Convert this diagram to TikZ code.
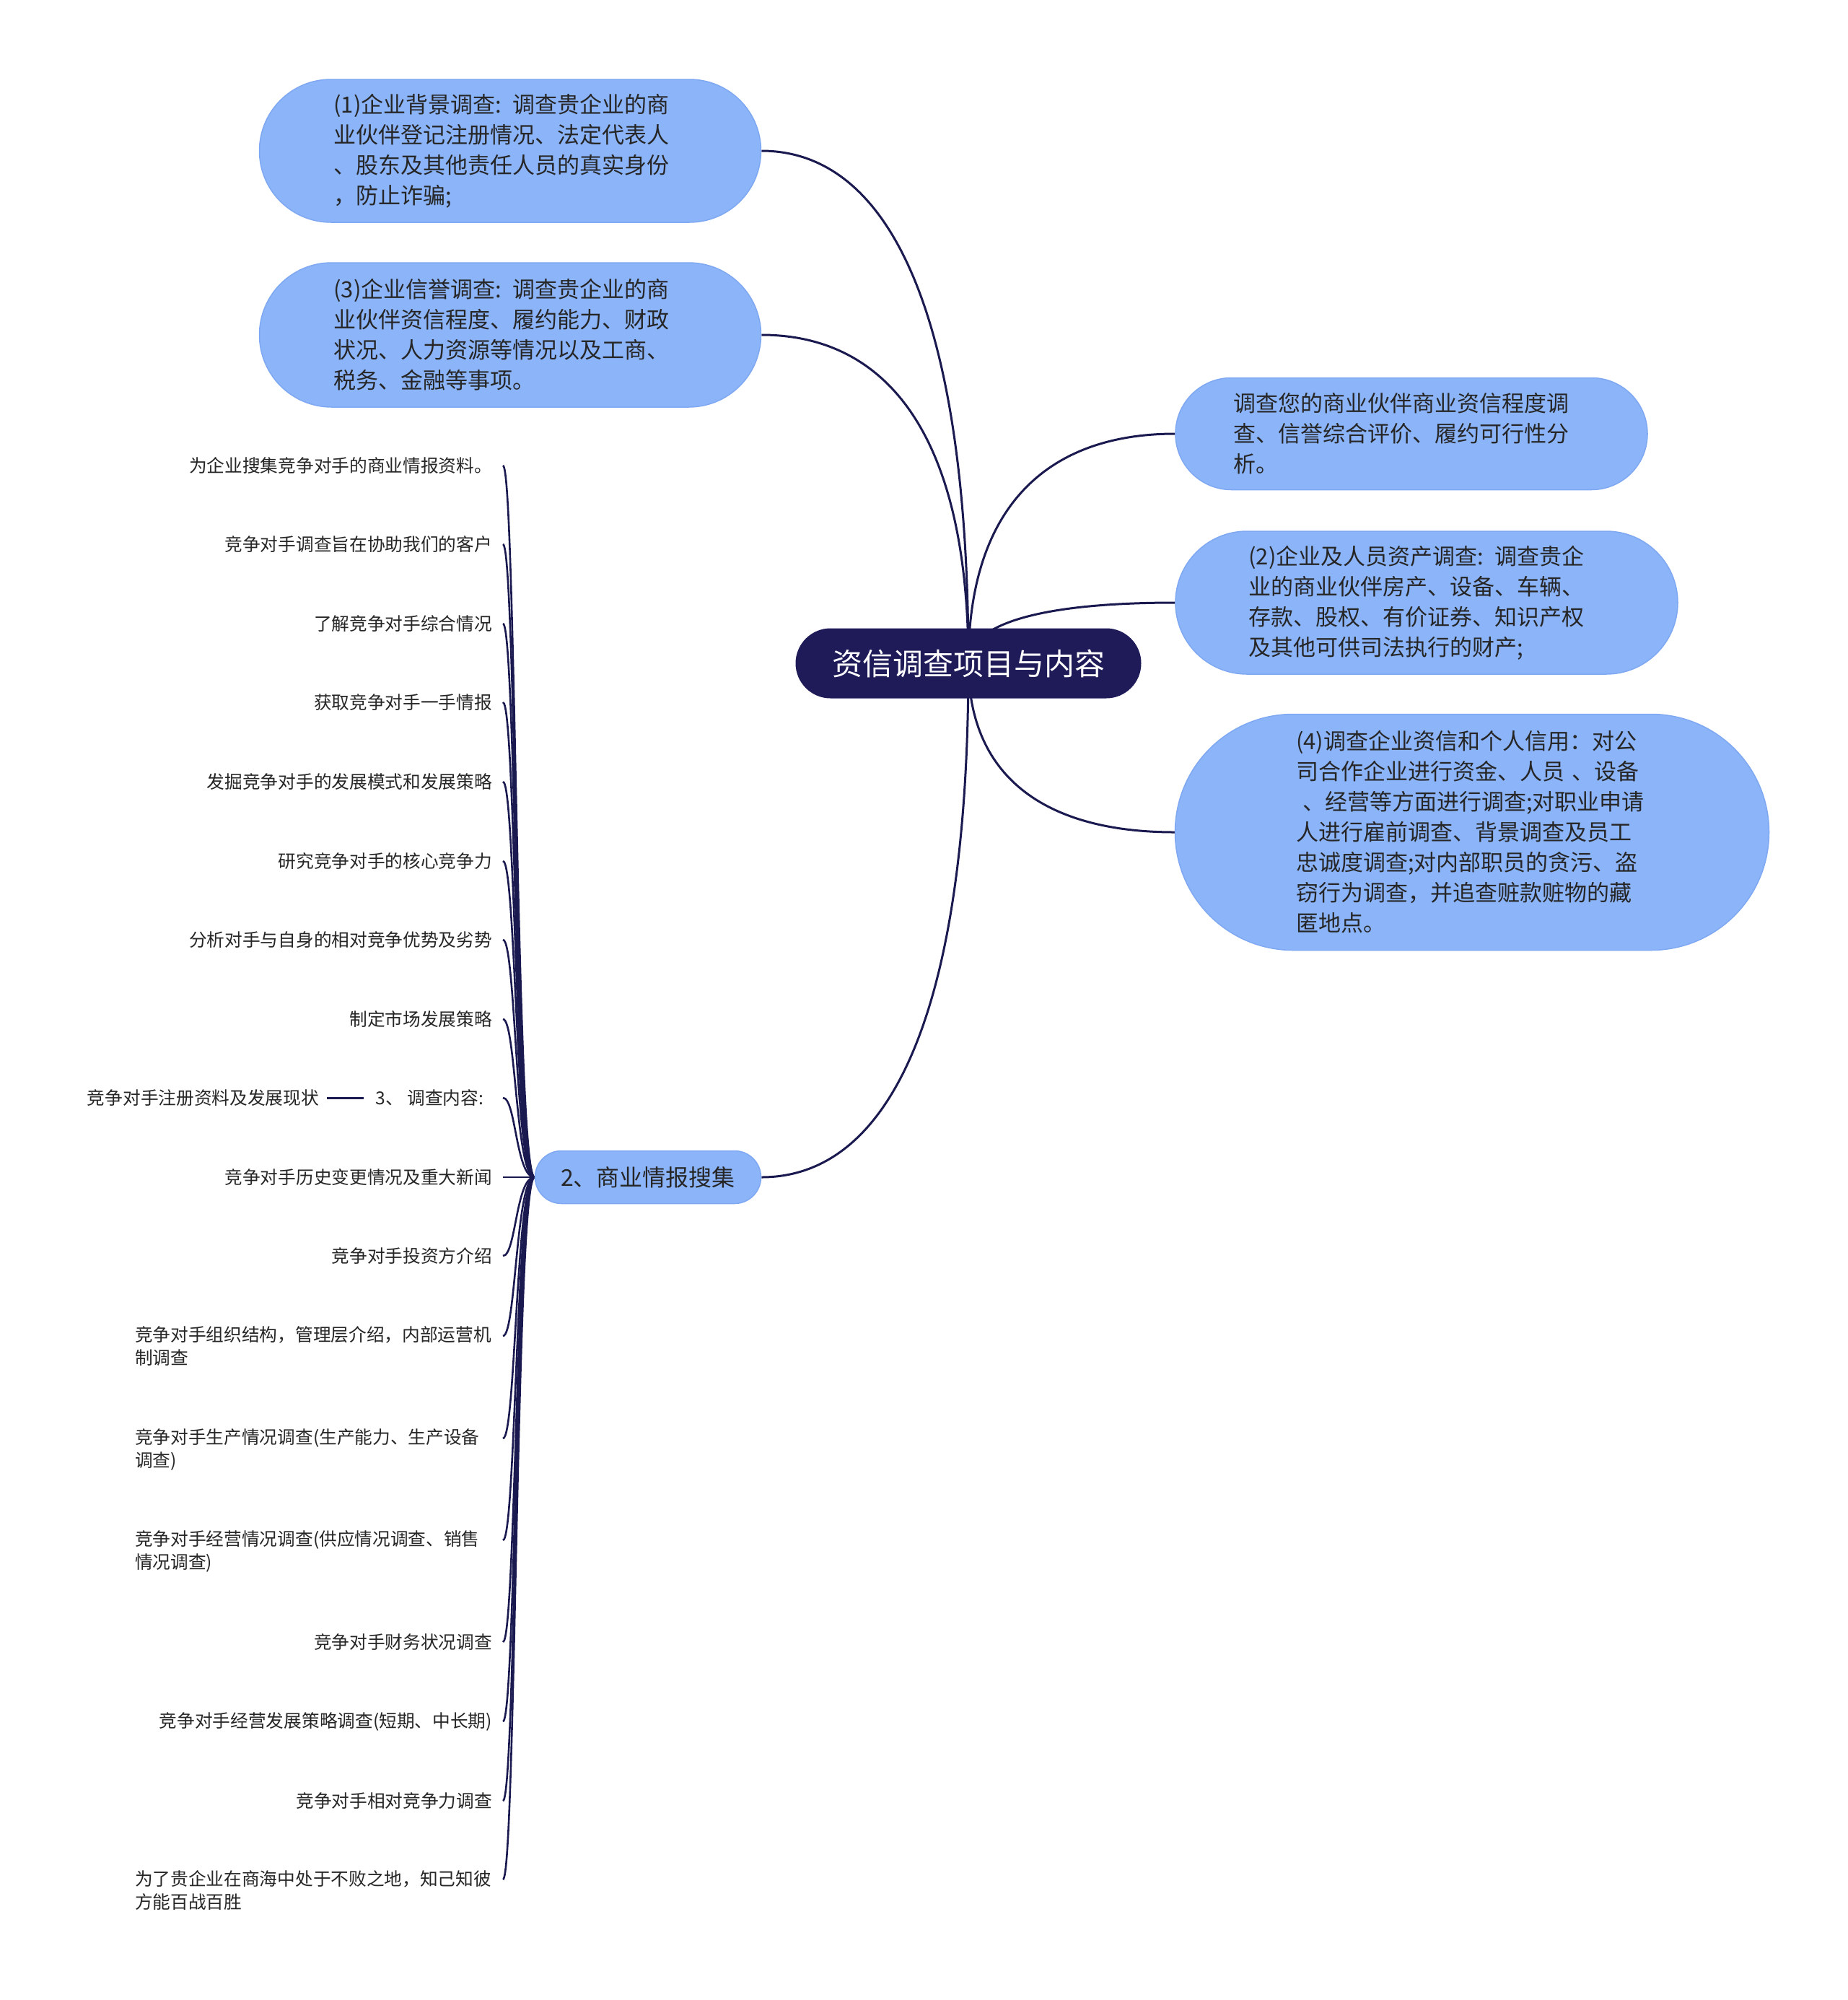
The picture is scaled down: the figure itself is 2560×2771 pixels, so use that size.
\documentclass[tikz,border=0pt]{standalone}
\usepackage{fontspec}
\setmainfont{Noto Sans CJK SC}
\usetikzlibrary{shapes.misc,calc}
\pgfdeclarelayer{bg}
\pgfsetlayers{bg,main}
\definecolor{navy}{HTML}{1E1B58}
\definecolor{linec}{HTML}{1B1A50}
\definecolor{pillblue}{HTML}{8CB4F9}
\definecolor{pilledge}{HTML}{7FA8F2}
\definecolor{txt}{HTML}{262626}
\begin{document}
\begin{tikzpicture}[x=1pt,y=-1pt,
  pill/.style={rounded rectangle, fill=pillblue, draw=pilledge, line width=1.5pt, inner sep=0pt, align=left, text=txt, font=\fontsize{31}{42}\selectfont},
  rootbox/.style={rounded rectangle, fill=navy, inner sep=0pt, text=white, font=\fontsize{42}{50}\selectfont},
  leaf/.style={inner sep=0pt, outer sep=0pt, text=txt, align=left, font=\fontsize{24.7}{32}\selectfont},
  conn/.style={draw=linec, line width=3pt},
  bundle/.style={draw=linec, line width=2.6pt},
]
\useasboundingbox (0,0) rectangle (2560,2771);

% main nodes
\node[rootbox, minimum width=479pt, minimum height=97pt] (root) at (1342,919) {资信调查项目与内容};

\node[pill, minimum width=695pt, minimum height=198pt, text width=489pt] (n1) at (707,209)
 {(1)企业背景调查: 调查贵企业的商\\业伙伴登记注册情况、法定代表人\\、股东及其他责任人员的真实身份\\，防止诈骗;};
\node[pill, minimum width=695pt, minimum height=200pt, text width=489pt] (n3) at (707,464)
 {(3)企业信誉调查: 调查贵企业的商\\业伙伴资信程度、履约能力、财政\\状况、人力资源等情况以及工商、\\税务、金融等事项。};
\node[pill, minimum width=654pt, minimum height=155pt, text width=493pt] (nA) at (1956,601)
 {调查您的商业伙伴商业资信程度调\\查、信誉综合评价、履约可行性分\\析。};
\node[pill, minimum width=696pt, minimum height=198pt, text width=493pt] (nB) at (1977,835)
 {(2)企业及人员资产调查: 调查贵企\\业的商业伙伴房产、设备、车辆、\\存款、股权、有价证券、知识产权\\及其他可供司法执行的财产;};
\node[pill, minimum width=823pt, minimum height=327pt, text width=488pt] (nC) at (2040,1153)
 {(4)调查企业资信和个人信用：对公\\司合作企业进行资金、人员 、设备\\\hspace{0.3em}、经营等方面进行调查;对职业申请\\人进行雇前调查、背景调查及员工\\忠诚度调查;对内部职员的贪污、盗\\窃行为调查，并追查赃款赃物的藏\\匿地点。};
\node[pill, minimum width=313pt, minimum height=73pt, font=\fontsize{32}{40}\selectfont] (n2) at (898,1631) {2、商业情报搜集};

% leaves
\node[leaf, anchor=east] (l1) at (682,645) {为企业搜集竞争对手的商业情报资料。};
\node[leaf, anchor=east] (l2) at (682,754) {竞争对手调查旨在协助我们的客户};
\node[leaf, anchor=east] (l3) at (682,864) {了解竞争对手综合情况};
\node[leaf, anchor=east] (l4) at (682,973) {获取竞争对手一手情报};
\node[leaf, anchor=east] (l5) at (682,1083) {发掘竞争对手的发展模式和发展策略};
\node[leaf, anchor=east] (l6) at (682,1193) {研究竞争对手的核心竞争力};
\node[leaf, anchor=east] (l7) at (682,1302) {分析对手与自身的相对竞争优势及劣势};
\node[leaf, anchor=east] (l8) at (682,1412) {制定市场发展策略};
\node[leaf, anchor=east] (l9) at (670,1521) {3、 调查内容:};
\node[leaf, anchor=east] (l9c) at (442,1521) {竞争对手注册资料及发展现状};
\node[leaf, anchor=east] (l10) at (682,1631) {竞争对手历史变更情况及重大新闻};
\node[leaf, anchor=east] (l11) at (682,1740) {竞争对手投资方介绍};
\node[leaf, anchor=north west] (l12) at (187,1838) {竞争对手组织结构，管理层介绍，内部运营机\\制调查};
\node[leaf, anchor=north west] (l13) at (187,1980) {竞争对手生产情况调查(生产能力、生产设备\\调查)};
\node[leaf, anchor=north west] (l14) at (187,2121) {竞争对手经营情况调查(供应情况调查、销售\\情况调查)};
\node[leaf, anchor=east] (l15) at (682,2275) {竞争对手财务状况调查};
\node[leaf, anchor=east] (l16) at (682,2385) {竞争对手经营发展策略调查(短期、中长期)};
\node[leaf, anchor=east] (l17) at (682,2495) {竞争对手相对竞争力调查};
\node[leaf, anchor=north west] (l18) at (187,2591) {为了贵企业在商海中处于不败之地，知己知彼\\方能百战百胜};

% helper coordinates
\coordinate (hub) at (715,1631);
\coordinate (hx) at (697,0);
\foreach \i in {1,2,3,4,5,6,7,8,9,10,11,15,16,17} {
  \coordinate (e\i) at (hx |- l\i.east);
}
\foreach \i in {12,13,14,18} {
  \coordinate (e\i) at ($(hx |- l\i.north)+(0,-13pt)$);
}

\begin{pgfonlayer}{bg}
\fill[white] (0,0) rectangle (2560,2771);
\foreach \t/\a in {n1/east,n3/east,n2/east,nA/west,nB/west,nC/west} {
  \draw[conn] (root.center) .. controls ($(root.center)!0.7!(root.center |- \t.\a)$)
     and ($(\t.\a)!0.6!(root.center |- \t.\a)$) .. (\t.\a);
}
\foreach \i in {1,2,3,4,5,6,7,8,9,10,11,12,13,14,15,16,17,18} {
  \draw[bundle] (n2.west) .. controls (hub) and (hub |- e\i) .. (e\i);
}
\draw[conn] ([xshift=-16pt]l9.west) -- ([xshift=11pt]l9c.east);
\end{pgfonlayer}
\end{tikzpicture}
\end{document}
